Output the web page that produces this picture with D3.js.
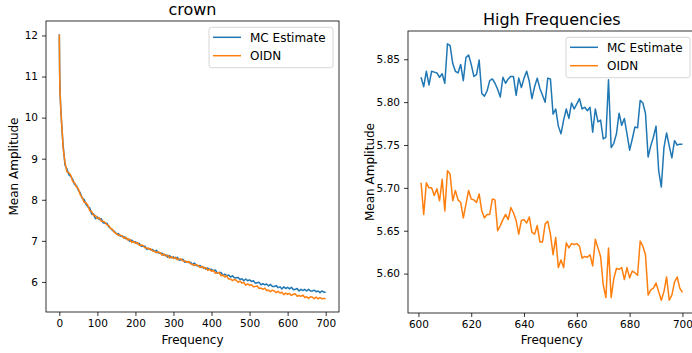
<!DOCTYPE html>
<html>
<head>
<meta charset="utf-8">
<script src="https://cdn.jsdelivr.net/npm/d3@7"></script>
<style>
body { margin: 0; background: #fff; }
text { font-family: "DejaVu Sans", sans-serif; fill: #000; }
</style>
</head>
<body>
<div id="vis"></div>
<script>
// ---- data ----
var seriesNames = ["MC Estimate", "OIDN"];
var seriesColors = ["#1f77b4", "#ff7f0e"];

// left panel: every frequency up to 9, then every 5
var leftFreq = d3.range(0, 10).concat(d3.range(10, 701, 5));
var leftMC = [
  12.03, 11.02, 10.62, 10.38, 10.20, 10.04, 9.86, 9.74, 9.58, 9.44,
  9.33, 8.84, 8.75, 8.61, 8.57, 8.50, 8.37, 8.35, 8.23, 8.17, 8.04, 8.01, 7.89, 7.83, 7.80, 7.65, 7.66, 7.54,
  7.58, 7.52, 7.54, 7.44, 7.43, 7.43, 7.34, 7.31, 7.25, 7.23, 7.17, 7.18, 7.12, 7.11, 7.10, 7.05, 7.05, 6.99, 7.02, 6.97,
  6.98, 6.93, 6.94, 6.87, 6.87, 6.87, 6.79, 6.82, 6.78, 6.79, 6.74, 6.77, 6.71, 6.70, 6.70, 6.65, 6.66, 6.60, 6.64, 6.59,
  6.61, 6.57, 6.60, 6.53, 6.54, 6.55, 6.48, 6.50, 6.47, 6.48, 6.42, 6.46, 6.40, 6.39, 6.40, 6.35, 6.36, 6.31, 6.34, 6.30,
  6.31, 6.27, 6.29, 6.22, 6.23, 6.23, 6.16, 6.19, 6.15, 6.17, 6.12, 6.15, 6.10, 6.10, 6.11, 6.06, 6.08, 6.03, 6.07, 6.03,
  6.05, 6.01, 6.03, 5.97, 5.98, 5.99, 5.93, 5.96, 5.93, 5.95, 5.90, 5.94, 5.89, 5.89, 5.91, 5.86, 5.88, 5.83, 5.88, 5.84,
  5.87, 5.83, 5.87, 5.81, 5.82, 5.84, 5.78, 5.82, 5.79, 5.82, 5.78, 5.82, 5.78, 5.78, 5.80, 5.76, 5.78, 5.74, 5.78, 5.75, 5.75
];
var leftOIDN = [
  12.02, 11.00, 10.60, 10.40, 10.18, 10.02, 9.88, 9.72, 9.60, 9.42,
  9.26, 8.91, 8.68, 8.66, 8.60, 8.45, 8.42, 8.31, 8.27, 8.12, 8.06, 7.94, 7.93, 7.86, 7.73, 7.72, 7.61, 7.62,
  7.54, 7.56, 7.48, 7.48, 7.45, 7.39, 7.37, 7.30, 7.28, 7.20, 7.18, 7.13, 7.14, 7.12, 7.06, 7.09, 7.02, 7.04, 6.96, 6.99,
  6.94, 6.96, 6.89, 6.90, 6.89, 6.83, 6.83, 6.80, 6.81, 6.75, 6.75, 6.71, 6.73, 6.71, 6.65, 6.68, 6.63, 6.65, 6.58, 6.61,
  6.57, 6.60, 6.54, 6.56, 6.56, 6.51, 6.51, 6.48, 6.50, 6.44, 6.43, 6.40, 6.42, 6.40, 6.35, 6.38, 6.33, 6.35, 6.28, 6.31,
  6.26, 6.28, 6.21, 6.22, 6.23, 6.15, 6.17, 6.12, 6.15, 6.07, 6.07, 6.03, 6.06, 6.04, 5.99, 6.02, 5.97, 5.99, 5.92, 5.95,
  5.92, 5.93, 5.88, 5.89, 5.90, 5.84, 5.85, 5.82, 5.85, 5.79, 5.80, 5.76, 5.80, 5.78, 5.74, 5.77, 5.73, 5.75, 5.69, 5.73,
  5.70, 5.72, 5.67, 5.70, 5.71, 5.65, 5.67, 5.65, 5.68, 5.62, 5.64, 5.60, 5.64, 5.63, 5.59, 5.63, 5.59, 5.62, 5.59, 5.60, 5.59
];

// right panel: frequencies 601..700
var highFreq = d3.range(601, 701);
var highMC = [
  5.829, 5.818, 5.836, 5.820, 5.836, 5.835, 5.834, 5.829, 5.833, 5.822,
  5.868, 5.866, 5.845, 5.836, 5.834, 5.844, 5.825, 5.852, 5.855, 5.844,
  5.830, 5.832, 5.849, 5.810, 5.807, 5.813, 5.825, 5.827, 5.822, 5.815,
  5.806, 5.829, 5.822, 5.827, 5.830, 5.830, 5.808, 5.828, 5.817, 5.828,
  5.836, 5.824, 5.804, 5.818, 5.828, 5.816, 5.808, 5.800, 5.828, 5.827,
  5.786, 5.792, 5.772, 5.763, 5.779, 5.792, 5.781, 5.799, 5.792, 5.798,
  5.804, 5.792, 5.794, 5.790, 5.794, 5.765, 5.792, 5.777, 5.779, 5.757,
  5.759, 5.826, 5.747, 5.752, 5.763, 5.787, 5.773, 5.781, 5.763, 5.744,
  5.757, 5.771, 5.770, 5.802, 5.799, 5.787, 5.736, 5.749, 5.759, 5.772,
  5.720, 5.701, 5.747, 5.764, 5.749, 5.735, 5.755, 5.750, 5.751, 5.751
];
var highOIDN = [
  5.706, 5.669, 5.706, 5.700, 5.700, 5.691, 5.699, 5.685, 5.710, 5.673,
  5.720, 5.716, 5.685, 5.697, 5.686, 5.683, 5.665, 5.681, 5.697, 5.687,
  5.686, 5.683, 5.693, 5.673, 5.665, 5.669, 5.669, 5.687, 5.686, 5.650,
  5.656, 5.663, 5.669, 5.663, 5.677, 5.671, 5.662, 5.646, 5.662, 5.663,
  5.659, 5.666, 5.648, 5.646, 5.656, 5.637, 5.637, 5.658, 5.661, 5.646,
  5.622, 5.642, 5.607, 5.616, 5.607, 5.636, 5.630, 5.635, 5.634, 5.635,
  5.632, 5.618, 5.620, 5.619, 5.622, 5.609, 5.640, 5.630, 5.620, 5.587,
  5.572, 5.630, 5.572, 5.594, 5.606, 5.605, 5.607, 5.593, 5.607, 5.595,
  5.603, 5.601, 5.598, 5.638, 5.632, 5.622, 5.575, 5.581, 5.583, 5.589,
  5.579, 5.569, 5.579, 5.596, 5.569, 5.575, 5.590, 5.596, 5.583, 5.578
];

var leftXTicks = [0, 100, 200, 300, 400, 500, 600, 700];
var leftYTicks = [6, 7, 8, 9, 10, 11, 12];
var highXTicks = [600, 620, 640, 660, 680, 700];
var highYTicks = [5.60, 5.65, 5.70, 5.75, 5.80, 5.85];

// ---- drawing ----
var width = 692, height = 353;

var svg = d3.select("#vis").append("svg")
    .attr("width", width)
    .attr("height", height);

// matplotlib style 5% margins
function padded(ext) {
    var p = (ext[1] - ext[0]) * 0.05;
    return [ext[0] - p, ext[1] + p];
}

function drawPanel(o) {
    var x = d3.scaleLinear()
        .domain(padded(d3.extent(o.freq)))
        .range([o.left, o.right]);
    var y = d3.scaleLinear()
        .domain(padded(d3.extent(o.series[0].concat(o.series[1]))))
        .range([o.bottom, o.top]);

    var g = svg.append("g");

    g.append("clipPath")
        .attr("id", o.id + "-clip")
        .append("rect")
        .attr("x", o.left)
        .attr("y", o.top)
        .attr("width", o.right - o.left)
        .attr("height", o.bottom - o.top);

    var line = d3.line()
        .x(function(d) { return x(d[0]); })
        .y(function(d) { return y(d[1]); });

    o.series.forEach(function(vals, i) {
        g.append("path")
            .datum(o.freq.map(function(f, j) { return [f, vals[j]]; }))
            .attr("clip-path", "url(#" + o.id + "-clip)")
            .attr("d", line)
            .attr("fill", "none")
            .attr("stroke", seriesColors[i])
            .attr("stroke-width", 1.5)
            .attr("stroke-linejoin", "round");
    });

    // axes
    var xAxis = d3.axisBottom(x).tickValues(o.xTicks).tickSize(4).tickPadding(4);
    var yAxis = d3.axisLeft(y).tickValues(o.yTicks).tickSize(4).tickPadding(4)
        .tickFormat(o.yFormat);

    var gx = g.append("g")
        .attr("transform", "translate(0," + o.bottom + ")")
        .call(xAxis);
    var gy = g.append("g")
        .attr("transform", "translate(" + o.left + ",0)")
        .call(yAxis);

    [gx, gy].forEach(function(a) {
        a.select(".domain").remove();
        a.selectAll("line").attr("stroke", "#000").attr("stroke-width", 0.8);
        a.selectAll("text")
            .style("font-family", "DejaVu Sans")
            .style("font-size", "10.5px")
            .attr("fill", "#000");
    });

    // spines
    g.append("rect")
        .attr("x", o.left)
        .attr("y", o.top)
        .attr("width", o.right - o.left)
        .attr("height", o.bottom - o.top)
        .attr("fill", "none")
        .attr("stroke", "#000")
        .attr("stroke-width", 0.8);

    // title
    g.append("text")
        .attr("x", (o.left + o.right) / 2)
        .attr("y", o.top - 6.4)
        .attr("text-anchor", "middle")
        .style("font-size", "16px")
        .text(o.title);

    // axis labels
    g.append("text")
        .attr("x", (o.left + o.right) / 2)
        .attr("y", 344)
        .attr("text-anchor", "middle")
        .style("font-size", "12px")
        .text("Frequency");

    g.append("text")
        .attr("transform", "translate(" + o.ylabelX + "," + ((o.top + o.bottom) / 2) + ") rotate(-90)")
        .attr("text-anchor", "middle")
        .attr("dy", "0.35em")
        .style("font-size", "12px")
        .text("Mean Amplitude");

    // legend
    var lx = o.legendRight - 124, ly = o.top + 6.3;
    var legend = g.append("g")
        .attr("transform", "translate(" + lx + "," + ly + ")");

    legend.append("rect")
        .attr("width", 124)
        .attr("height", 40.4)
        .attr("rx", 2.5)
        .attr("fill", "#fff")
        .attr("fill-opacity", 0.8)
        .attr("stroke", "#cccccc")
        .attr("stroke-width", 0.8);

    var item = legend.selectAll(".item")
        .data(seriesNames).enter()
        .append("g")
        .attr("class", "item")
        .attr("transform", function(d, i) { return "translate(0," + (10 + 18.4 * i) + ")"; });

    item.append("line")
        .attr("x1", 4)
        .attr("x2", 32)
        .attr("stroke", function(d, i) { return seriesColors[i]; })
        .attr("stroke-width", 1.5);

    item.append("text")
        .attr("x", 41)
        .attr("dy", "0.35em")
        .style("font-size", "12px")
        .text(function(d) { return d; });
}

drawPanel({
    id: "left",
    title: "crown",
    freq: leftFreq,
    series: [leftMC, leftOIDN],
    left: 46, right: 339, top: 21, bottom: 312,
    xTicks: leftXTicks, yTicks: leftYTicks,
    yFormat: d3.format("d"),
    ylabelX: 13.5,
    legendRight: 333
});

drawPanel({
    id: "right",
    title: "High Frequencies",
    freq: highFreq,
    series: [highMC, highOIDN],
    left: 408, right: 695.5, top: 31, bottom: 313,
    xTicks: highXTicks, yTicks: highYTicks,
    yFormat: d3.format(".2f"),
    ylabelX: 369.5,
    legendRight: 690
});
</script>
</body>
</html>
